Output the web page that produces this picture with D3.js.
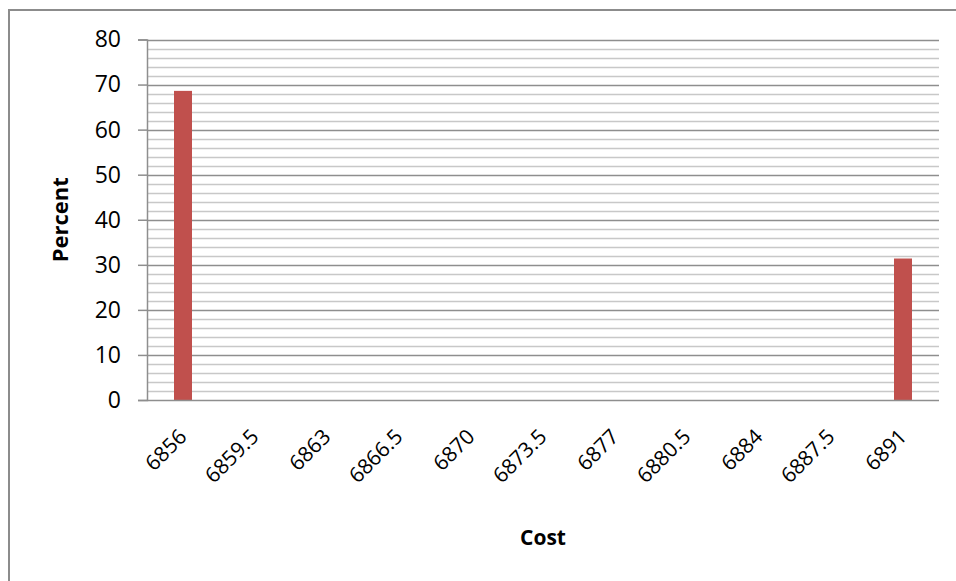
<!DOCTYPE html>
<html>
<head>
<meta charset="utf-8">
<script src="https://cdn.jsdelivr.net/npm/d3@7"></script>
<style>
  html, body { margin: 0; padding: 0; background: #fff; }
  svg { display: block; font-family: "Open Sans", "Noto Sans", sans-serif; }
</style>
</head>
<body>
<svg id="chart" width="956" height="581"></svg>
<script>
// Cost bins and the share of cases falling in each bin
const costs = ["6856", "6859.5", "6863", "6866.5", "6870", "6873.5", "6877", "6880.5", "6884", "6887.5", "6891"];
const percents = [68.6, 0, 0, 0, 0, 0, 0, 0, 0, 0, 31.4];
const yTicks = [0, 10, 20, 30, 40, 50, 60, 70, 80];
const yMinorTicks = d3.range(0, 81, 2);

const svg = d3.select("#chart");
const margin = { left: 147, right: 17, top: 39.5, bottom: 181 };
const W = 956, H = 581;
const x0 = margin.left, x1 = W - margin.right;
const y0 = H - margin.bottom, y1 = margin.top;

// Outer chart frame
svg.append("rect")
  .attr("x", 9).attr("y", 10)
  .attr("width", 960).attr("height", 600)
  .attr("fill", "#fff")
  .attr("stroke", "#8c8c8c").attr("stroke-width", 2);

const x = d3.scaleBand().domain(costs).range([x0, x1]).paddingInner(0.75).paddingOuter(0.375);
const y = d3.scaleLinear().domain([0, 80]).range([y0, y1]);

// Minor gridlines every 2 units
svg.append("g").selectAll("line")
  .data(yMinorTicks.filter(d => d % 10 !== 0))
  .join("line")
  .attr("x1", x0).attr("x2", x1)
  .attr("y1", d => Math.round(y(d)) + 0.5).attr("y2", d => Math.round(y(d)) + 0.5)
  .attr("stroke", "#c8c8c8").attr("stroke-width", 1.5);

// Major gridlines every 10 units
svg.append("g").selectAll("line")
  .data(yTicks.filter(d => d > 0))
  .join("line")
  .attr("x1", x0).attr("x2", x1)
  .attr("y1", d => Math.round(y(d)) + 0.5).attr("y2", d => Math.round(y(d)) + 0.5)
  .attr("stroke", "#8e8e8e").attr("stroke-width", 1.5);

// Bars
svg.append("g").selectAll("rect")
  .data(costs.map((c, i) => ({ c, v: percents[i] })).filter(d => d.v > 0))
  .join("rect")
  .attr("x", d => x(d.c))
  .attr("width", x.bandwidth())
  .attr("y", d => y(d.v))
  .attr("height", d => y(0) - y(d.v))
  .attr("fill", "#c0504d");

// Y axis
const yAxis = d3.axisLeft(y).tickValues(yTicks).tickSize(9).tickPadding(17);
const gy = svg.append("g").attr("transform", `translate(${x0},0)`).call(yAxis);
gy.select(".domain").attr("stroke", "#8e8e8e").attr("stroke-width", 1.5);
gy.selectAll(".tick line").attr("stroke", "#8e8e8e").attr("stroke-width", 1.5);
gy.selectAll(".tick text").attr("font-size", 23).attr("fill", "#000")
  .attr("font-family", "'Open Sans', sans-serif");

// X axis line and rotated category labels
const xAxis = d3.axisBottom(x).tickSize(0).tickPadding(0);
const gx = svg.append("g").attr("transform", `translate(0,${y0})`).call(xAxis);
gx.select(".domain").attr("stroke", "#8e8e8e").attr("stroke-width", 1.5)
  .attr("d", `M${x0},0.5H${x1}`);
gx.selectAll(".tick text")
  .attr("font-size", 21).attr("fill", "#000")
  .attr("font-family", "'Open Sans', sans-serif")
  .attr("text-anchor", "end")
  .attr("dy", 0).attr("y", 0)
  .attr("transform", "translate(5,38) rotate(-45)");

// Axis titles
svg.append("text")
  .attr("x", (x0 + x1) / 2).attr("y", 545)
  .attr("text-anchor", "middle")
  .attr("font-size", 21).attr("font-weight", "bold")
  .text("Cost");

svg.append("text")
  .attr("transform", `translate(68,${(y0 + y1) / 2}) rotate(-90)`)
  .attr("text-anchor", "middle")
  .attr("font-size", 22).attr("font-weight", "bold")
  .text("Percent");
</script>
</body>
</html>
